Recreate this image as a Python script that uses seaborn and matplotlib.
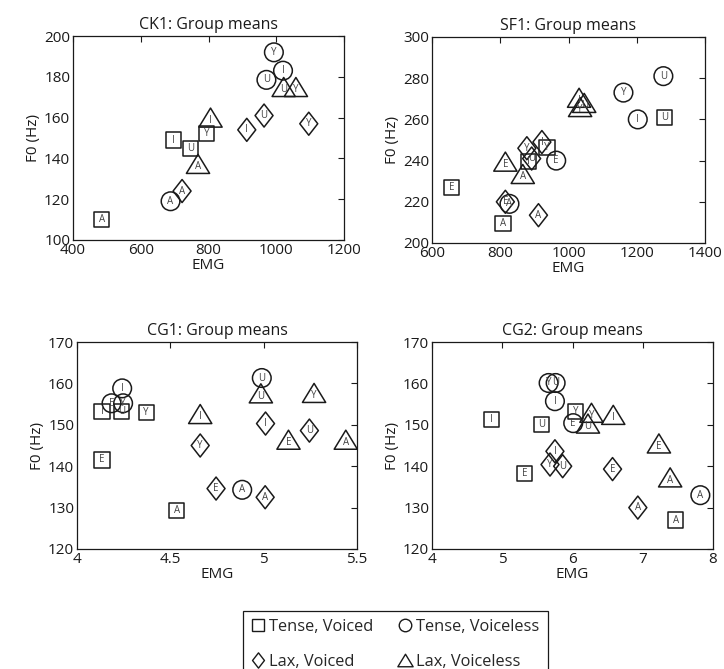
import numpy as np
import pandas as pd
import matplotlib
matplotlib.use("Agg")
import matplotlib.pyplot as plt
import matplotlib.path as mpath
from matplotlib.markers import MarkerStyle
from matplotlib.lines import Line2D
import seaborn as sns

# ---------------- data ----------------
group_names = ["Tense, Voiced", "Tense, Voiceless", "Lax, Voiced", "Lax, Voiceless"]
panel_titles = ["CK1: Group means", "SF1: Group means", "CG1: Group means", "CG2: Group means"]

# groups: TV = Tense, Voiced ; TU = Tense, Voiceless ; LV = Lax, Voiced ; LU = Lax, Voiceless
ck1_group = ["TV", "TV", "TV", "TV", "TU", "TU", "TU", "TU", "LV", "LV", "LV", "LV", "LU", "LU", "LU", "LU"]
ck1_vowel = ["A", "I", "U", "Y", "A", "U", "I", "Y", "A", "I", "U", "Y", "A", "I", "U", "Y"]
ck1_emg = [485, 697, 747, 794, 688, 971, 1020, 993, 722, 913, 964, 1096, 769, 806, 1022, 1058]
ck1_f0 = [110, 149, 145, 152, 119, 178.5, 183, 192, 124, 154, 161, 157, 137.3, 160, 175, 175]

sf1_group = ["TV"] * 5 + ["TU"] * 5 + ["LV"] * 5 + ["LU"] * 5
sf1_vowel = ["E", "A", "I", "Y", "U", "A", "E", "Y", "I", "U", "E", "A", "Y", "U", "I", "E", "A", "I", "U", "Y"]
sf1_emg = [657, 808, 883, 937, 1281, 827, 964, 1161, 1203, 1278, 815, 912, 878, 892, 922, 815, 866, 1031, 1046, 1034]
sf1_f0 = [227, 209.5, 239.5, 246.5, 261, 219, 240, 273, 260, 281, 220, 213.5, 246, 241, 249, 239.5, 233.5, 270.5, 268, 266]

cg1_group = ["TV"] * 5 + ["TU"] * 5 + ["LV"] * 5 + ["LU"] * 5
cg1_vowel = ["I", "E", "U", "Y", "A", "E", "Y", "I", "A", "U", "Y", "E", "A", "I", "U", "I", "U", "E", "Y", "A"]
cg1_emg = [4.134, 4.134, 4.238, 4.37, 4.534, 4.185, 4.247, 4.242, 4.885, 4.99, 4.66, 4.745, 5.008, 5.01, 5.245, 4.66, 4.985, 5.133, 5.27, 5.44]
cg1_f0 = [153.3, 141.5, 153.3, 153, 129.4, 155.2, 155.2, 158.8, 134.3, 161.3, 145, 134.6, 132.5, 150.3, 148.6, 152.6, 157.6, 146.4, 157.7, 146.4]

cg2_group = ["TV"] * 5 + ["TU"] * 5 + ["LV"] * 5 + ["LU"] * 5
cg2_vowel = ["I", "U", "E", "Y", "A", "Y", "U", "I", "E", "A", "I", "Y", "U", "E", "A", "Y", "U", "I", "E", "A"]
cg2_emg = [4.85, 5.56, 5.32, 6.04, 7.47, 5.66, 5.76, 5.75, 6.01, 7.82, 5.75, 5.68, 5.86, 6.57, 6.93, 6.27, 6.22, 6.58, 7.23, 7.39]
cg2_f0 = [151.3, 150, 138.3, 153.2, 127, 160.1, 160.1, 155.7, 150.4, 133, 143.6, 140.4, 140, 139.3, 130, 152.9, 150.3, 152.4, 145.5, 137.3]

xlims = [(400, 1200), (600, 1400), (4, 5.5), (4, 8)]
ylims = [(100, 200), (200, 300), (120, 170), (120, 170)]
xticks = [[400, 600, 800, 1000, 1200], [600, 800, 1000, 1200, 1400], [4, 4.5, 5, 5.5], [4, 5, 6, 7, 8]]
xticklabels = [["400", "600", "800", "1000", "1200"], ["600", "800", "1000", "1200", "1400"],
               ["4", "4.5", "5", "5.5"], ["4", "5", "6", "7", "8"]]
yticks = [[100, 120, 140, 160, 180, 200], [200, 220, 240, 260, 280, 300],
          [120, 130, 140, 150, 160, 170], [120, 130, 140, 150, 160, 170]]

# ---------------- style ----------------
sns.set_theme(style="white")
plt.rcParams["font.family"] = ["Open Sans", "DejaVu Sans"]


def closed_marker(verts):
    v = np.array(verts + [verts[0]], dtype=float)
    return MarkerStyle(mpath.Path(v, closed=True))


m_square = "s"
m_circle = "o"
m_diamond = closed_marker([(0, 1), (0.78, 0), (0, -1), (-0.78, 0)])
m_triangle = closed_marker([(0, 0.82), (1, -0.82), (-1, -0.82)])

group_style = {
    "TV": dict(marker=m_square, s=118, dy=0.0),
    "TU": dict(marker=m_circle, s=180, dy=0.0),
    "LV": dict(marker=m_diamond, s=275, dy=0.0),
    "LU": dict(marker=m_triangle, s=280, dy=-2.0),
}
group_order = ["TV", "TU", "LV", "LU"]

panels = [
    pd.DataFrame({"group": ck1_group, "vowel": ck1_vowel, "EMG": ck1_emg, "F0": ck1_f0}),
    pd.DataFrame({"group": sf1_group, "vowel": sf1_vowel, "EMG": sf1_emg, "F0": sf1_f0}),
    pd.DataFrame({"group": cg1_group, "vowel": cg1_vowel, "EMG": cg1_emg, "F0": cg1_f0}),
    pd.DataFrame({"group": cg2_group, "vowel": cg2_vowel, "EMG": cg2_emg, "F0": cg2_f0}),
]

W, H = 724, 669
fig = plt.figure(figsize=(W / 100, H / 100), dpi=100)
fig.patch.set_facecolor("white")

# axes boxes in pixels: left, right, top, bottom
boxes = [(73, 344, 36, 240), (432, 705, 37, 243), (77, 357, 342, 549), (432, 713, 342, 549)]

for i, df in enumerate(panels):
    l, r, t, b = boxes[i]
    ax = fig.add_axes([l / W, 1 - b / H, (r - l) / W, (b - t) / H])
    ax.set_facecolor("white")
    for g in group_order:
        sub = df[df["group"] == g]
        st = group_style[g]
        sns.scatterplot(data=sub, x="EMG", y="F0", marker=st["marker"], s=st["s"],
                        facecolor="none", edgecolor="#1a1a1a", linewidth=1.1,
                        ax=ax, legend=False, zorder=3)
        for _, row in sub.iterrows():
            ax.annotate(row["vowel"], (row["EMG"], row["F0"]), xytext=(0, st["dy"]),
                        textcoords="offset points", ha="center", va="center",
                        fontsize=7, color="#444444", zorder=4)
    ax.set_xlim(*xlims[i])
    ax.set_ylim(*ylims[i])
    ax.set_xticks(xticks[i])
    ax.set_xticklabels(xticklabels[i])
    ax.set_yticks(yticks[i])
    ax.tick_params(direction="in", top=True, right=True, length=4, width=0.8,
                   labelsize=11, pad=2, colors="#1a1a1a")
    for sp in ax.spines.values():
        sp.set_color("#1a1a1a")
        sp.set_linewidth(0.9)
    ax.set_title(panel_titles[i], fontsize=11.5, pad=5, color="#1a1a1a")
    ax.set_xlabel("EMG", fontsize=11, labelpad=0, color="#1a1a1a")
    ax.set_ylabel("F0 (Hz)", fontsize=11, labelpad=2, color="#1a1a1a")


def legend_handle(marker, ms):
    return Line2D([], [], linestyle="none", marker=marker, markersize=ms, markerfacecolor="none",
                  markeredgecolor="#1a1a1a", markeredgewidth=1.0)


h_tv = legend_handle(m_square, 8.5)
h_tu = legend_handle(m_circle, 9)
h_lv = legend_handle(m_diamond, 11)
h_lu = legend_handle(m_triangle, 11)
# matplotlib fills legend columns first: order so rows read TV/TU and LV/LU
leg = fig.legend([h_tv, h_lv, h_tu, h_lu],
                 [group_names[0], group_names[2], group_names[1], group_names[3]],
                 ncol=2, loc="upper left",
                 bbox_to_anchor=(243 / W, 1 - 611 / H), frameon=True, fancybox=False,
                 edgecolor="#1a1a1a", framealpha=1, fontsize=11.8, handlelength=0.8,
                 handletextpad=0.3, columnspacing=1.5, borderpad=0.5, labelspacing=1.15,
                 borderaxespad=0)
leg.get_frame().set_linewidth(0.9)

fig.savefig("out.png", dpi=100)
